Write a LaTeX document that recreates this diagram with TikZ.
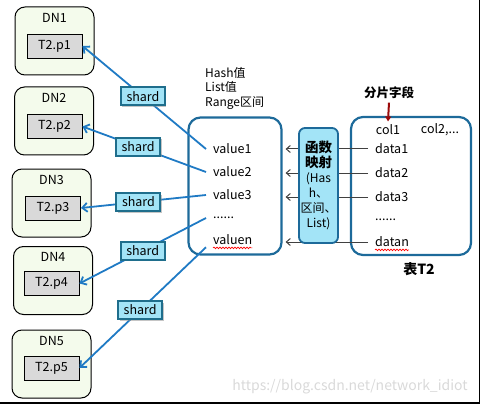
\documentclass[tikz,border=0pt]{standalone}
\usepackage{fontspec}
\setmainfont{Noto Sans CJK SC}
\usepackage{xcolor}
\usepackage{tikz}
\usetikzlibrary{positioning, shapes, calc, arrows.meta, shadows, decorations.pathmorphing}

\definecolor{dngreen}{HTML}{F4FBEC}
\definecolor{cellgray}{HTML}{D9D9D9}
\definecolor{shardfill}{HTML}{A3E4F7}
\definecolor{sharddraw}{HTML}{1F6E8C}
\definecolor{linkblue}{HTML}{1F7AC4}
\definecolor{boxblue}{HTML}{1D6A9A}
\definecolor{fieldred}{HTML}{9B0A0A}

\begin{document}
\begin{tikzpicture}[x=1pt,y=-1pt,
	every node/.append style={font=\fontsize{12.5}{14}\selectfont},
	dn/.style={draw=black,fill=dngreen,rounded corners=10pt,line width=1pt,minimum width=79pt,minimum height=68pt},
	cell/.style={draw=black,fill=cellgray,line width=.9pt,inner sep=0pt,minimum width=55pt,minimum height=24pt},
	shardbox/.style={draw=sharddraw,fill=shardfill,line width=2pt,inner sep=1pt,minimum width=44pt,minimum height=18pt,
		drop shadow={shadow xshift=1.5pt,shadow yshift=-1.5pt,fill=black!45}},
	link/.style={draw=linkblue,line width=1.8pt,-{Straight Barb[length=5pt,width=9pt]}},
	datalink/.style={draw=black!75,line width=1pt,shorten >=3pt,-{Straight Barb[length=4pt,width=7pt]}},
	item/.style={anchor=west,inner xsep=7pt,inner ysep=2pt},
	bigbox/.style={draw=boxblue,line width=2.2pt,rounded corners=12pt},
	squiggle/.style={red,line width=.7pt,decorate,decoration={snake,amplitude=.8pt,segment length=3pt}}]

\useasboundingbox (0,0) rectangle (480,404);

% data nodes on the left
\node[dn] (dn1) at (54.5,41) {};
\node[below=3pt] at (dn1.north) {DN1};
\node[cell] (p1) at (54.5,46) {T2.p1};
\node[dn] (dn2) at (54,121) {};
\node[below=3pt] at (dn2.north) {DN2};
\node[cell] (p2) at (54.5,126.5) {T2.p2};
\node[dn] (dn3) at (51.5,203) {};
\node[below=3pt] at (dn3.north) {DN3};
\node[cell] (p3) at (53,208) {T2.p3};
\node[dn] (dn4) at (53,280.5) {};
\node[below=3pt] at (dn4.north) {DN4};
\node[cell] (p4) at (51.5,283.5) {T2.p4};
\node[dn] (dn5) at (51.5,364) {};
\node[below=3pt] at (dn5.north) {DN5};
\node[cell] (p5) at (51.5,368) {T2.p5};

% value box
\node[bigbox,minimum width=93pt,minimum height=137pt] (vbox) at (235,186) {};
\node[anchor=west,align=left,inner sep=1pt,font=\fontsize{12}{14.5}\selectfont] (kinds) at (204,88) {Hash值\\List值\\Range区间};
\node[item] (v1) at (206,149) {value1};
\node[item] (v2) at (206,172) {value2};
\node[item] (v3) at (206,195) {value3};
\node[item] (v4) at (206,218) {......};
\node[item] (v5) at (206,240) {valuen};
\draw[squiggle] ($(v5.base west)+(7,3)$) -- ($(v5.base east)+(-7,3)$);

% table T2
\node[bigbox,minimum width=120pt,minimum height=138pt] (tbox) at (411,186) {};
\node[font=\fontsize{12.5}{14}\bfseries] (field) at (389,93) {分片字段};
\node (c1) at (388,130) {col1};
\node (c2) at (440,130) {col2,...};
\draw[fieldred,line width=2pt,-{Triangle[length=5pt,width=6pt]}] (field.south) -- (c1.north);
\node[item] (d1) at (368,149) {data1};
\node[item] (d2) at (368,173) {data2};
\node[item] (d3) at (368,197) {data3};
\node[item] (d4) at (368,220) {......};
\node[item] (d5) at (368,242) {datan};
\draw[squiggle] ($(d5.base west)+(7,3)$) -- ($(d5.base east)+(-7,3)$);
\node[font=\fontsize{14}{16}\bfseries] (tname) at (419,269) {表T2};

% mapping arrows, hidden under the function box
\draw[datalink] (d1.west) -- (d1.west -| vbox.east);
\draw[datalink] (d2.west) -- (d2.west -| vbox.east);
\draw[datalink] (d3.west) -- (d3.west -| vbox.east);
\draw[datalink] (d5.west) -- (d5.west -| vbox.east);

% function box
\node[draw=boxblue,fill=shardfill,line width=1.8pt,rounded corners=6pt,minimum width=39pt,minimum height=115pt,
	inner sep=0pt,align=center,font=\fontsize{12}{15}\selectfont] (fbox) at (318.5,185.5)
	{\textbf{\fontsize{13.5}{18}\selectfont 函数}\\\textbf{\fontsize{13.5}{18}\selectfont 映射}\\(Has\\h、\\区间、\\List)};

% shard links to the data nodes
\draw[link] (v1.west) -- node[shardbox,pos=.51] (s1) {shard} (p1.east);
\draw[link] (v2.west) -- node[shardbox,pos=.55] (s2) {shard} (p2.east);
\draw[link] (v3.west) -- node[shardbox,pos=.54] (s3) {shard} (p3.east);
\draw[link] (v4.west) -- node[shardbox,pos=.50] (s4) {shard} (p4.east);
\draw[link] (v5.south west) -- node[shardbox,pos=.52] (s5) {shard} (p5.east);

% watermark and frame
\node[text=black!15,font=\fontsize{14}{16}\selectfont] (wm) at (350,387) {https://blog.csdn.net/network\_idiot};
\draw[line width=1.5pt] (479.25,0) -- (479.25,402.75) -- (0,402.75);

\end{tikzpicture}
\end{document}
